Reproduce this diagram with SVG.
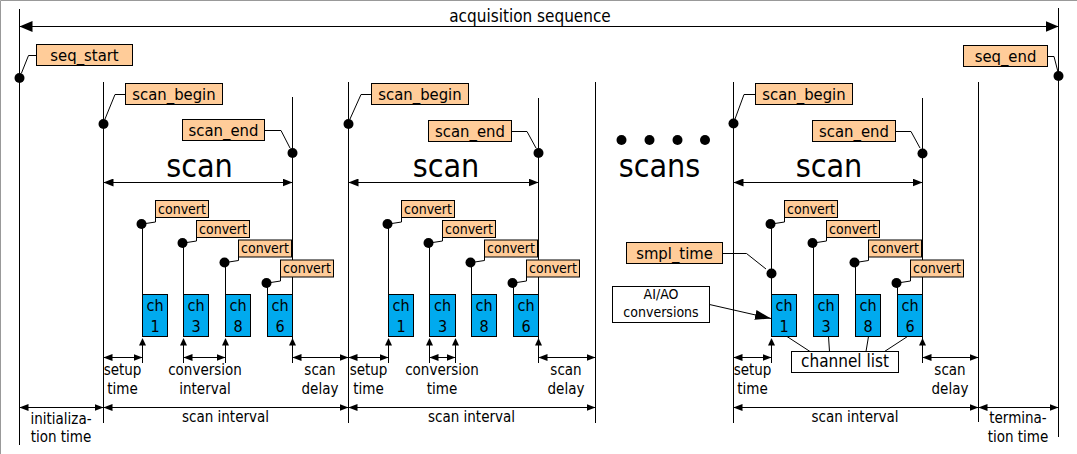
<svg xmlns="http://www.w3.org/2000/svg" width="1077" height="454" viewBox="0 0 1077 454">
<style>
text{font-family:"DejaVu Sans Condensed","DejaVu Sans",sans-serif;fill:#000;text-anchor:middle}
.lbl{font-size:16.5px}
.cv{font-size:14px}
.dim{font-size:15px}
.big{font-size:32px}
.ch{font-size:16px}
.tag{fill:#FFCC99;stroke:#000;stroke-width:1}
.chb{fill:#00AAEE;stroke:#000;stroke-width:1}
.box{fill:#fff;stroke:#000;stroke-width:1}
.ln{stroke:#000;stroke-width:1;fill:none}
.dot{fill:#000}
.dimA{stroke:#000;stroke-width:1;fill:none;marker-start:url(#as);marker-end:url(#as)}
</style>
<defs>
<marker id="ab" viewBox="0 0 13 11" refX="13" refY="5.5" markerWidth="13" markerHeight="11" markerUnits="userSpaceOnUse" orient="auto-start-reverse"><path d="M0,0L13,5.5L0,11z" fill="#000"/></marker>
<marker id="am" viewBox="0 0 10 8" refX="10" refY="4" markerWidth="10" markerHeight="8" markerUnits="userSpaceOnUse" orient="auto-start-reverse"><path d="M0,0L10,4L0,8z" fill="#000"/></marker>
<marker id="as" viewBox="0 0 9 7" refX="9" refY="3.5" markerWidth="9" markerHeight="7" markerUnits="userSpaceOnUse" orient="auto-start-reverse"><path d="M0,0L9,3.5L0,7z" fill="#000"/></marker>
<marker id="al" viewBox="0 0 16 10" refX="16" refY="5" markerWidth="16" markerHeight="10" markerUnits="userSpaceOnUse" orient="auto"><path d="M0,0L16,5L0,10z" fill="#000"/></marker>
<path id="up" d="M0,0L3.5,7.5L-3.5,7.5z"/>
</defs>
<rect width="1077" height="454" fill="#fff"/>
<path d="M0.5,454V0.5H1077" stroke="#999" fill="none"/>

<g id="connectors">
<path class="ln" d="M19.5,9V445M1058.5,8V437M103.5,82V423M292.5,97V363M348.5,82V423M538.5,98V363M595.5,82V423M733.5,82V423M922.5,98V363M978.5,82V422"/>
<line class="ln" x1="19.5" y1="26.5" x2="1058.5" y2="26.5" marker-start="url(#ab)" marker-end="url(#ab)"/>
<line class="ln" x1="103.5" y1="182.5" x2="292.5" y2="182.5" marker-start="url(#am)" marker-end="url(#am)"/>
<line class="ln" x1="348.5" y1="182.5" x2="538.5" y2="182.5" marker-start="url(#am)" marker-end="url(#am)"/>
<line class="ln" x1="733.5" y1="182.5" x2="922.5" y2="182.5" marker-start="url(#am)" marker-end="url(#am)"/>
<path class="ln" d="M36.5,55.5H28.5L21.5,73"/>
<path class="ln" d="M1047.5,56.5H1054L1058,72"/>
<path class="ln" d="M125.5,94.5H115L105,119"/>
<path class="ln" d="M264.5,130.5H281L290,148"/>
<path class="ln" d="M371.5,94.5H361L350,119"/>
<path class="ln" d="M511.5,131.5H527L536,148"/>
<path class="ln" d="M755.5,94.5H744L735,119"/>
<path class="ln" d="M895.5,131.5H911L920,148"/>
<path class="ln" d="M722.5,253.5H746.5L766,269"/>
<path class="ln" d="M142.5,224V294.5M183.5,243V294.5M225.5,262.5V294.5M267.5,283V294.5"/>
<path class="ln" d="M388.5,224V294.5M429.5,243V294.5M471.5,262.5V294.5M513.5,283V294.5"/>
<path class="ln" d="M771.5,224V294.5M813.5,243V294.5M855.5,262.5V294.5M897.5,283V294.5"/>
<path class="ln" d="M142.5,224L155.5,222V217.5M183.5,243L196.5,241V237.5M225.5,262.5L238.5,260.5V257M267.5,283L280.5,281V277"/>
<path class="ln" d="M388.5,224L401.5,222V217.5M429.5,243L442.5,241V237.5M471.5,262.5L484.5,260.5V257M513.5,283L526.5,281V277"/>
<path class="ln" d="M771.5,224L784.5,222V217.5M813.5,243L826.5,241V237.5M855.5,262.5L868.5,260.5V257M897.5,283L910.5,281V277"/>
<path class="ln" d="M142.5,345V363M183.5,345V363M225.5,345V363M388.5,345V363M429.5,345V363M455.5,345V363M771.5,345V363"/>
<g fill="#000">
<use href="#up" x="142.5" y="338"/><use href="#up" x="183.5" y="338"/><use href="#up" x="225.5" y="338"/><use href="#up" x="292.5" y="338"/>
<use href="#up" x="388.5" y="338"/><use href="#up" x="429.5" y="338"/><use href="#up" x="455.5" y="338"/><use href="#up" x="538.5" y="338"/>
<use href="#up" x="771.5" y="338"/><use href="#up" x="922.5" y="338"/>
</g>
<path class="dimA" d="M103.5,357.5H142.5"/>
<path class="dimA" d="M183.5,357.5H225.5"/>
<path class="dimA" d="M292.5,357.5H348.5"/>
<path class="dimA" d="M348.5,357.5H388.5"/>
<path class="dimA" d="M429.5,357.5H455.5"/>
<path class="dimA" d="M538.5,357.5H595.5"/>
<path class="dimA" d="M733.5,357.5H771.5"/>
<path class="dimA" d="M922.5,357.5H978.5"/>
<path class="dimA" d="M19.5,407.5H103.5"/>
<path class="dimA" d="M103.5,407.5H348.5"/>
<path class="dimA" d="M348.5,407.5H595.5"/>
<path class="dimA" d="M733.5,407.5H978.5"/>
<path class="dimA" d="M978.5,407.5H1058.5"/>
<line class="ln" x1="709.5" y1="304.5" x2="771" y2="318.5" marker-end="url(#al)"/>
<path class="ln" d="M787,336.5L810,351.5M828.5,336.5L829.5,351.5M868.5,336.5L866,351.5M907.5,336.5L884.5,351.5"/>
</g>

<g id="dots" class="dot">
<circle cx="19.5" cy="78" r="5"/><circle cx="1058.5" cy="76" r="5"/>
<circle cx="103.5" cy="124" r="5"/><circle cx="292.5" cy="153" r="5"/>
<circle cx="348.5" cy="124" r="5"/><circle cx="538.5" cy="153" r="5"/>
<circle cx="733.5" cy="123.5" r="5"/><circle cx="922.5" cy="153.5" r="5"/>
<circle cx="141.5" cy="224" r="5"/><circle cx="182.5" cy="243" r="5"/><circle cx="224.5" cy="262.5" r="5"/><circle cx="266.5" cy="283" r="5"/>
<circle cx="387.5" cy="224" r="5"/><circle cx="428.5" cy="243" r="5"/><circle cx="470.5" cy="262.5" r="5"/><circle cx="512.5" cy="283" r="5"/>
<circle cx="770.5" cy="224" r="5"/><circle cx="812.5" cy="243" r="5"/><circle cx="854.5" cy="262.5" r="5"/><circle cx="896.5" cy="283" r="5"/>
<circle cx="771.5" cy="273.5" r="5"/>
<circle cx="621.5" cy="140" r="5"/><circle cx="649.5" cy="140" r="5"/><circle cx="677.5" cy="140" r="5"/><circle cx="705" cy="140" r="5"/>
</g>

<text x="530" y="22" style="font-size:17px">acquisition sequence</text>

<g id="seq_start"><rect class="tag" x="36.5" y="44.5" width="96" height="21"/><text class="lbl" x="84.5" y="61">seq_start</text></g>
<g id="seq_end"><rect class="tag" x="963.5" y="45.5" width="84" height="21"/><text class="lbl" x="1005.5" y="62">seq_end</text></g>
<g id="scan_begin_1"><rect class="tag" x="125.5" y="83.5" width="97" height="21"/><text class="lbl" x="174" y="99.5">scan_begin</text></g>
<g id="scan_end_1"><rect class="tag" x="182.5" y="119.5" width="82" height="21"/><text class="lbl" x="223.5" y="135.5">scan_end</text></g>
<g id="scan_begin_2"><rect class="tag" x="371.5" y="83.5" width="97" height="21"/><text class="lbl" x="420" y="99.5">scan_begin</text></g>
<g id="scan_end_2"><rect class="tag" x="428.5" y="120.5" width="83" height="21"/><text class="lbl" x="470" y="136.5">scan_end</text></g>
<g id="scan_begin_3"><rect class="tag" x="755.5" y="83.5" width="97" height="21"/><text class="lbl" x="804" y="99.5">scan_begin</text></g>
<g id="scan_end_3"><rect class="tag" x="812.5" y="120.5" width="83" height="21"/><text class="lbl" x="854" y="136.5">scan_end</text></g>
<g id="smpl_time"><rect class="tag" x="626.5" y="242.5" width="96" height="21"/><text class="lbl" x="674.5" y="258.5">smpl_time</text></g>

<g id="scan_titles">
<text class="big" x="199.5" y="177">scan</text>
<text class="big" x="446" y="177">scan</text>
<text class="big" x="659.5" y="177">scans</text>
<text class="big" x="829" y="177">scan</text>
</g>

<g id="converts_1">
<rect class="tag" x="155.5" y="200.5" width="53" height="17"/><text class="cv" x="182" y="213.5">convert</text>
<rect class="tag" x="196.5" y="220.5" width="53" height="17"/><text class="cv" x="223" y="233.5">convert</text>
<rect class="tag" x="238.5" y="240" width="53" height="17"/><text class="cv" x="265" y="253">convert</text>
<rect class="tag" x="280.5" y="260" width="53" height="17"/><text class="cv" x="307" y="273">convert</text>
</g>
<g id="converts_2">
<rect class="tag" x="401.5" y="200.5" width="53" height="17"/><text class="cv" x="428" y="213.5">convert</text>
<rect class="tag" x="442.5" y="220.5" width="53" height="17"/><text class="cv" x="469" y="233.5">convert</text>
<rect class="tag" x="484.5" y="240" width="53" height="17"/><text class="cv" x="511" y="253">convert</text>
<rect class="tag" x="526.5" y="260" width="53" height="17"/><text class="cv" x="553" y="273">convert</text>
</g>
<g id="converts_3">
<rect class="tag" x="784.5" y="200.5" width="53" height="17"/><text class="cv" x="811" y="213.5">convert</text>
<rect class="tag" x="826.5" y="220.5" width="53" height="17"/><text class="cv" x="853" y="233.5">convert</text>
<rect class="tag" x="868.5" y="240" width="53" height="17"/><text class="cv" x="895" y="253">convert</text>
<rect class="tag" x="910.5" y="260" width="53" height="17"/><text class="cv" x="937" y="273">convert</text>
</g>

<g id="channels_1">
<rect class="chb" x="142.5" y="294.5" width="25" height="42"/><text class="ch" x="155" y="311">ch</text><text class="ch" x="155" y="331.5">1</text>
<rect class="chb" x="183.5" y="294.5" width="25" height="42"/><text class="ch" x="196" y="311">ch</text><text class="ch" x="196" y="331.5">3</text>
<rect class="chb" x="225.5" y="294.5" width="25" height="42"/><text class="ch" x="238" y="311">ch</text><text class="ch" x="238" y="331.5">8</text>
<rect class="chb" x="267.5" y="294.5" width="25" height="42"/><text class="ch" x="280" y="311">ch</text><text class="ch" x="280" y="331.5">6</text>
</g>
<g id="channels_2">
<rect class="chb" x="388.5" y="294.5" width="25" height="42"/><text class="ch" x="401" y="311">ch</text><text class="ch" x="401" y="331.5">1</text>
<rect class="chb" x="429.5" y="294.5" width="26" height="42"/><text class="ch" x="442.5" y="311">ch</text><text class="ch" x="442.5" y="331.5">3</text>
<rect class="chb" x="471.5" y="294.5" width="25" height="42"/><text class="ch" x="484" y="311">ch</text><text class="ch" x="484" y="331.5">8</text>
<rect class="chb" x="513.5" y="294.5" width="25" height="42"/><text class="ch" x="526" y="311">ch</text><text class="ch" x="526" y="331.5">6</text>
</g>
<g id="channels_3">
<rect class="chb" x="771.5" y="294.5" width="25" height="42"/><text class="ch" x="784" y="311">ch</text><text class="ch" x="784" y="331.5">1</text>
<rect class="chb" x="813.5" y="294.5" width="25" height="42"/><text class="ch" x="826" y="311">ch</text><text class="ch" x="826" y="331.5">3</text>
<rect class="chb" x="855.5" y="294.5" width="25" height="42"/><text class="ch" x="868" y="311">ch</text><text class="ch" x="868" y="331.5">8</text>
<rect class="chb" x="897.5" y="294.5" width="25" height="42"/><text class="ch" x="910" y="311">ch</text><text class="ch" x="910" y="331.5">6</text>
</g>

<g id="aiao"><rect class="box" x="612.5" y="286.5" width="97" height="36"/><text class="cv" x="661" y="299">AI/AO</text><text class="cv" x="661" y="317">conversions</text></g>
<g id="channel_list"><rect class="box" x="791.5" y="351.5" width="107" height="21"/><text x="845" y="367" style="font-size:17px">channel list</text></g>

<g id="dim_labels">
<text class="dim" x="61" y="424">initializa-</text><text class="dim" x="61" y="442">tion time</text>
<text class="dim" x="122.5" y="375">setup</text><text class="dim" x="122.5" y="394">time</text>
<text class="dim" x="205" y="375">conversion</text><text class="dim" x="205" y="394">interval</text>
<text class="dim" x="320" y="375">scan</text><text class="dim" x="320" y="394">delay</text>
<text class="dim" x="225.5" y="422">scan interval</text>
<text class="dim" x="368.5" y="375">setup</text><text class="dim" x="368.5" y="394">time</text>
<text class="dim" x="442" y="375">conversion</text><text class="dim" x="442" y="394">time</text>
<text class="dim" x="566" y="375">scan</text><text class="dim" x="566" y="394">delay</text>
<text class="dim" x="471.5" y="422">scan interval</text>
<text class="dim" x="752.5" y="375">setup</text><text class="dim" x="752.5" y="394">time</text>
<text class="dim" x="950" y="375">scan</text><text class="dim" x="950" y="394">delay</text>
<text class="dim" x="855" y="422">scan interval</text>
<text class="dim" x="1018" y="423">termina-</text><text class="dim" x="1018" y="442">tion time</text>
</g>
</svg>
